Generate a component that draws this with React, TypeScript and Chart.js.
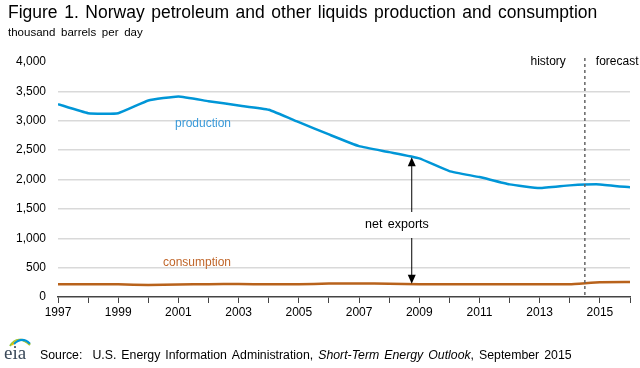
import React, { useEffect, useRef } from "react";
import { Chart, registerables } from "chart.js";

Chart.register(...registerables);

const years = [1997, 1998, 1999, 2000, 2001, 2002, 2003, 2004, 2005, 2006, 2007, 2008, 2009, 2010, 2011, 2012, 2013, 2014, 2015, 2016];
const production = [3282, 3129, 3129, 3345, 3413, 3333, 3260, 3187, 2976, 2767, 2568, 2466, 2360, 2143, 2041, 1917, 1854, 1900, 1917, 1866];
const consumption = [216, 216, 216, 204, 214, 216, 222, 216, 216, 228, 230, 226, 216, 216, 216, 216, 216, 216, 252, 255];
const yTicks = [0, 500, 1000, 1500, 2000, 2500, 3000, 3500, 4000];
const forecastStart = 2014.5;

const FONT = "'Liberation Sans', Arial, sans-serif";

function spaced(ctx: any, text: string, x: number, y: number, ws: number) {
  const words = text.split(" ");
  let cx = x;
  const sp = ctx.measureText(" ").width + ws;
  words.forEach((w, i) => {
    if (w.length) {
      ctx.fillText(w, cx, y);
      cx += ctx.measureText(w).width;
    }
    if (i < words.length - 1) cx += sp;
  });
  return cx;
}

const overlay = {
  id: "overlay",
  afterDraw(chart: any) {
    const ctx = chart.ctx as CanvasRenderingContext2D;
    const xs = chart.scales.x;
    const ys = chart.scales.y;
    ctx.save();
    ctx.fillStyle = "#000";
    ctx.textBaseline = "middle";
    ctx.textAlign = "left";
    ctx.font = `17.5px ${FONT}`;
    spaced(ctx, "Figure 1. Norway petroleum and other liquids production and consumption", 8, 13, 1.7);
    ctx.font = `11.5px ${FONT}`;
    spaced(ctx, "thousand barrels per day", 8, 33, 2.5);

    const xd = xs.getPixelForValue(forecastStart);
    ctx.strokeStyle = "#666";
    ctx.lineWidth = 1.5;
    ctx.setLineDash([3, 3]);
    ctx.beginPath();
    ctx.moveTo(xd, 58);
    ctx.lineTo(xd, ys.getPixelForValue(0));
    ctx.stroke();
    ctx.setLineDash([]);

    ctx.font = `12px ${FONT}`;
    ctx.fillStyle = "#000";
    ctx.textAlign = "right";
    ctx.fillText("history", xd - 19, 62);
    ctx.textAlign = "left";
    ctx.fillText("forecast", xd + 11, 62);

    ctx.fillStyle = "#3a9ad9";
    ctx.fillText("production", 175, 124);
    ctx.fillStyle = "#c0662a";
    ctx.fillText("consumption", 163, 263);

    const ax = xs.getPixelForValue(2008.75);
    const yTop = ys.getPixelForValue(2380);
    const yBot = ys.getPixelForValue(225);
    ctx.strokeStyle = "#000";
    ctx.fillStyle = "#000";
    ctx.lineWidth = 1;
    ctx.beginPath();
    ctx.moveTo(ax, yTop + 6);
    ctx.lineTo(ax, 212);
    ctx.moveTo(ax, 238);
    ctx.lineTo(ax, yBot - 6);
    ctx.stroke();
    ctx.beginPath();
    ctx.moveTo(ax, yTop);
    ctx.lineTo(ax - 4, yTop + 9);
    ctx.lineTo(ax + 4, yTop + 9);
    ctx.closePath();
    ctx.fill();
    ctx.beginPath();
    ctx.moveTo(ax, yBot);
    ctx.lineTo(ax - 4, yBot - 9);
    ctx.lineTo(ax + 4, yBot - 9);
    ctx.closePath();
    ctx.fill();
    ctx.font = `12.5px ${FONT}`;
    spaced(ctx, "net exports", 365, 225, 2);

    ctx.fillStyle = "#000";
    let sx = 40;
    const sy = 356;
    const ws = 1.6;
    ctx.font = `12.3px ${FONT}`;
    sx = spaced(ctx, "Source:  U.S. Energy Information Administration,", sx, sy, ws);
    sx += ctx.measureText(" ").width + ws;
    ctx.font = `italic 12.3px ${FONT}`;
    sx = spaced(ctx, "Short-Term Energy Outlook", sx, sy, ws);
    ctx.font = `12.3px ${FONT}`;
    spaced(ctx, ", September 2015", sx, sy, ws);

    ctx.font = `19px 'Liberation Serif', 'DejaVu Serif', serif`;
    ctx.fillStyle = "#3b4a5a";
    ctx.fillText("eia", 4, 354);
    ctx.lineWidth = 2;
    const arcs = [["#8cc63f", 0], ["#f2c500", 2], ["#0096d7", 4]] as const;
    for (const [c, o] of arcs) {
      ctx.strokeStyle = c;
      ctx.beginPath();
      ctx.moveTo(10 + o, 346 - o / 2);
      ctx.quadraticCurveTo(18 + o, 334 + o / 2, 30, 345 - o / 3);
      ctx.stroke();
    }
    ctx.restore();
  },
};

export default function App() {
  const ref = useRef<HTMLCanvasElement>(null);
  useEffect(() => {
    if (!ref.current) return;
    const chart = new Chart(ref.current, {
      type: "line",
      data: {
        datasets: [
          {
            label: "production",
            data: years.map((y, i) => ({ x: y, y: production[i] })),
            borderColor: "#0096d7",
            borderWidth: 2.5,
            pointRadius: 0,
            tension: 0.12,
          },
          {
            label: "consumption",
            data: years.map((y, i) => ({ x: y, y: consumption[i] })),
            borderColor: "#b8621b",
            borderWidth: 2.5,
            pointRadius: 0,
            tension: 0.12,
          },
        ],
      },
      options: {
        animation: false,
        responsive: false,
        devicePixelRatio: 1,
        layout: { padding: { left: 0, right: 10, top: 62, bottom: 51 } },
        plugins: { legend: { display: false }, tooltip: { enabled: false }, title: { display: false } },
        scales: {
          x: {
            type: "linear",
            min: 1997,
            max: 2016,
            afterFit(scale: any) {
              scale.height = 20;
            },
            afterBuildTicks(scale: any) {
              scale.ticks = years.map((v) => ({ value: v }));
            },
            ticks: {
              autoSkip: false,
              maxRotation: 0,
              padding: 2,
              color: "#000",
              font: { family: FONT, size: 12 },
              callback: (v: any) => (Number(v) % 2 === 1 ? String(v) : ""),
            },
            grid: { drawOnChartArea: false, drawTicks: true, tickLength: 6, color: "#444", lineWidth: 1 },
            border: { display: true, color: "#444", width: 1.5 },
          },
          y: {
            min: 0,
            max: 4000,
            afterFit(scale: any) {
              scale.width = 58;
            },
            afterBuildTicks(scale: any) {
              scale.ticks = yTicks.map((v) => ({ value: v }));
            },
            ticks: {
              padding: 12,
              color: "#000",
              font: { family: FONT, size: 12 },
              callback: (v: any) => Number(v).toLocaleString("en-US"),
            },
            grid: {
              drawTicks: false,
              color: (c: any) => (c.tick && (c.tick.value === 0 || c.tick.value === 4000) ? "rgba(0,0,0,0)" : "#d9d9d9"),
              lineWidth: 1.5,
            },
            border: { display: false },
          },
        },
      },
      plugins: [overlay],
    });
    return () => chart.destroy();
  }, []);
  return (
    <div style={{ position: "fixed", left: 0, top: 0, width: 640, height: 368, background: "#fff" }}>
      <canvas ref={ref} width={640} height={368} style={{ width: 640, height: 368, display: "block" }} />
    </div>
  );
}
